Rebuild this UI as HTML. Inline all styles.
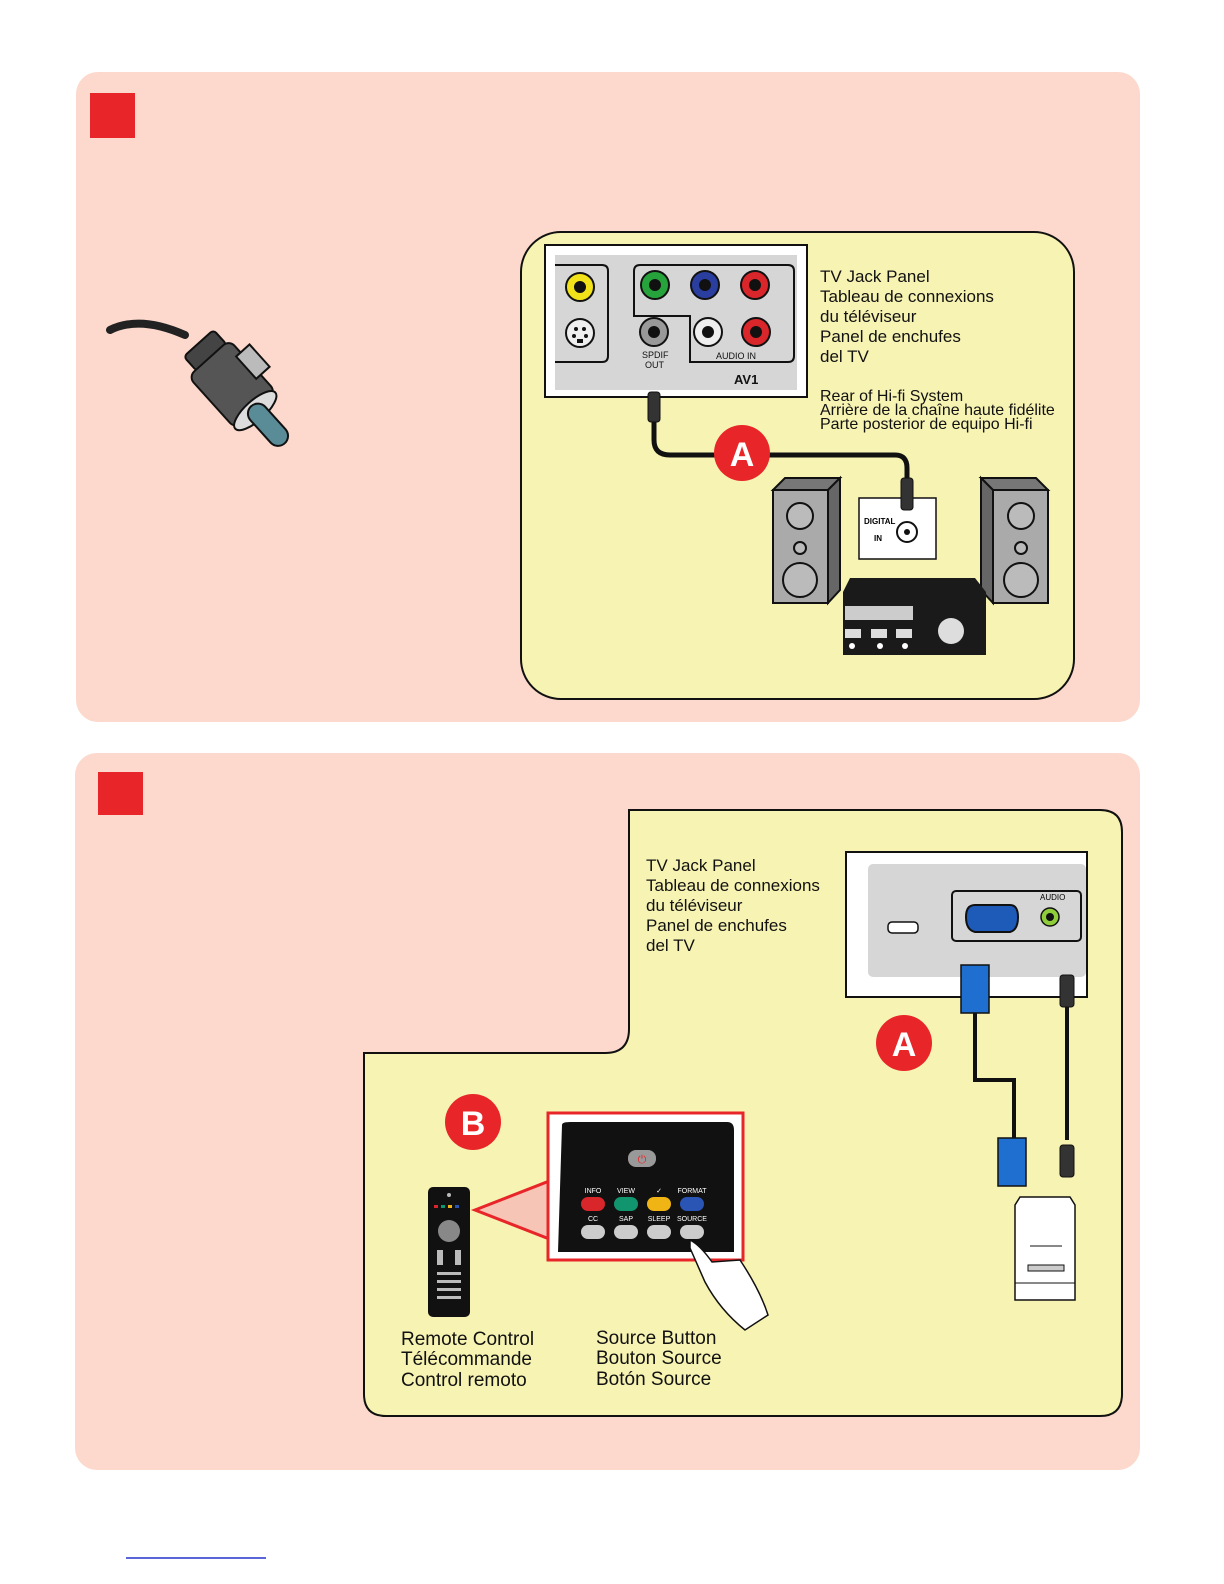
<!DOCTYPE html>
<html><head><meta charset="utf-8"><style>
html,body{margin:0;padding:0;background:#fff}
svg{display:block}
text{font-family:"Liberation Sans",sans-serif}
.lb{font-size:17px;fill:#111}
</style></head><body>
<svg width="1224" height="1584" viewBox="0 0 1224 1584" xmlns="http://www.w3.org/2000/svg">
<rect x="76" y="72" width="1064" height="650" rx="22" fill="#fcd9cc"/>
<rect x="90" y="93" width="45" height="45" fill="#e8262a"/>
<rect x="521" y="232" width="553" height="467" rx="40" fill="#f7f3b2" stroke="#111" stroke-width="2"/>
<!-- plug -->
<path d="M110 330 Q140 315 185 335" stroke="#222" stroke-width="8" fill="none" stroke-linecap="round"/>
<g transform="rotate(48 225 380)">
<rect x="180" y="355" width="20" height="40" rx="4" fill="#444" stroke="#111" stroke-width="2"/>
<rect x="198" y="350" width="70" height="55" rx="8" fill="#555" stroke="#111" stroke-width="2"/>
<rect x="215" y="338" width="30" height="18" fill="#bbb" stroke="#111" stroke-width="2"/>
<ellipse cx="268" cy="378" rx="10" ry="27" fill="#ddd" stroke="#111" stroke-width="2"/>
<rect x="262" y="368" width="50" height="20" rx="10" fill="#5a8c98" stroke="#111" stroke-width="2"/>
</g>
<!-- TV jack panel 1 -->
<rect x="545" y="245" width="262" height="152" fill="#fff" stroke="#111" stroke-width="2"/>
<rect x="555" y="255" width="242" height="135" fill="#d6d6d6"/>
<path d="M555 265 H602 Q608 265 608 271 V356 Q608 362 602 362 H555" fill="none" stroke="#111" stroke-width="2"/>
<path d="M640 265 H788 Q794 265 794 271 V356 Q794 362 788 362 H690 V316 H634 V271 Q634 265 640 265Z" fill="none" stroke="#111" stroke-width="2"/>
<g stroke="#111" stroke-width="2">
<circle cx="580" cy="287" r="14" fill="#f2e21a"/><circle cx="580" cy="287" r="5" fill="#111"/>
<circle cx="580" cy="333" r="14" fill="#eee"/>
<circle cx="655" cy="285" r="14" fill="#27a33b"/><circle cx="655" cy="285" r="5" fill="#111"/>
<circle cx="705" cy="285" r="14" fill="#2a3ea0"/><circle cx="705" cy="285" r="5" fill="#111"/>
<circle cx="755" cy="285" r="14" fill="#d8262a"/><circle cx="755" cy="285" r="5" fill="#111"/>
<circle cx="654" cy="332" r="14" fill="#999"/><circle cx="654" cy="332" r="5" fill="#111"/>
<circle cx="708" cy="332" r="14" fill="#eee"/><circle cx="708" cy="332" r="5" fill="#111"/>
<circle cx="756" cy="332" r="14" fill="#d8262a"/><circle cx="756" cy="332" r="5" fill="#111"/>
</g>
<g fill="#111"><circle cx="576" cy="329" r="2"/><circle cx="584" cy="329" r="2"/><circle cx="574" cy="336" r="2"/><circle cx="586" cy="336" r="2"/><rect x="577" y="339" width="6" height="4"/></g>
<text x="642" y="358" font-size="9" fill="#111">SPDIF</text>
<text x="645" y="368" font-size="9" fill="#111">OUT</text>
<text x="716" y="359" font-size="9" fill="#111">AUDIO IN</text>
<text x="734" y="384" font-size="13" font-weight="bold" fill="#111">AV1</text>
<text class="lb" x="820" y="282">TV Jack Panel</text>
<text class="lb" x="820" y="302">Tableau de connexions</text>
<text class="lb" x="820" y="322">du téléviseur</text>
<text class="lb" x="820" y="342">Panel de enchufes</text>
<text class="lb" x="820" y="362">del TV</text>
<text x="820" y="401" font-size="16" fill="#111">Rear of Hi-fi System</text>
<text x="820" y="415" font-size="16" fill="#111">Arrière de la chaîne haute fidélite</text>
<text x="820" y="429" font-size="16" fill="#111">Parte posterior de equipo Hi-fi</text>
<path d="M654 420 V440 Q654 455 670 455 H895 Q907 455 907 468 V480" fill="none" stroke="#111" stroke-width="5"/>
<rect x="648" y="392" width="12" height="30" rx="3" fill="#333" stroke="#111"/>
<circle cx="742" cy="453" r="28" fill="#e8262a"/>
<text x="742" y="466" font-size="34" font-weight="bold" fill="#fff" text-anchor="middle">A</text>
<!-- speakers -->
<g stroke="#111" stroke-width="2">
<polygon points="773,490 785,478 840,478 828,490" fill="#777"/>
<polygon points="828,490 840,478 840,590 828,603" fill="#666"/>
<rect x="773" y="490" width="55" height="113" fill="#aaa"/>
<circle cx="800" cy="516" r="13" fill="#bbb"/><circle cx="800" cy="548" r="6" fill="#bbb"/><circle cx="800" cy="580" r="17" fill="#bbb"/>
<polygon points="993,490 981,478 1036,478 1048,490" fill="#777"/>
<polygon points="981,478 993,490 993,603 981,590" fill="#666"/>
<rect x="993" y="490" width="55" height="113" fill="#aaa"/>
<circle cx="1021" cy="516" r="13" fill="#bbb"/><circle cx="1021" cy="548" r="6" fill="#bbb"/><circle cx="1021" cy="580" r="17" fill="#bbb"/>
</g>
<rect x="859" y="498" width="77" height="61" fill="#fff" stroke="#111" stroke-width="1.5"/>
<text x="864" y="524" font-size="8" font-weight="bold">DIGITAL</text><text x="874" y="541" font-size="8" font-weight="bold">IN</text>
<circle cx="907" cy="532" r="10" fill="#fff" stroke="#111" stroke-width="2"/><circle cx="907" cy="532" r="3" fill="#111"/>
<rect x="901" y="478" width="12" height="32" rx="3" fill="#333" stroke="#111"/>
<path d="M850 578 L843 592 V655 H986 V592 L975 578Z" fill="#1a1a1a"/>
<rect x="845" y="606" width="68" height="14" fill="#ccc"/>
<rect x="845" y="629" width="16" height="9" fill="#ddd"/><rect x="871" y="629" width="16" height="9" fill="#ddd"/><rect x="896" y="629" width="16" height="9" fill="#ddd"/>
<circle cx="852" cy="646" r="3" fill="#fff"/><circle cx="880" cy="646" r="3" fill="#fff"/><circle cx="905" cy="646" r="3" fill="#fff"/>
<circle cx="951" cy="631" r="13" fill="#ddd"/>

<!-- panel 2 -->
<rect x="75" y="753" width="1065" height="717" rx="22" fill="#fcd9cc"/>
<rect x="98" y="772" width="45" height="43" fill="#e8262a"/>
<path d="M629 810 H1100 Q1122 810 1122 832 V1394 Q1122 1416 1100 1416 H386 Q364 1416 364 1394 V1053 H605 Q629 1053 629 1029 Z" fill="#f7f3b2" stroke="#111" stroke-width="2"/>
<text class="lb" x="646" y="871">TV Jack Panel</text>
<text class="lb" x="646" y="891">Tableau de connexions</text>
<text class="lb" x="646" y="911">du téléviseur</text>
<text class="lb" x="646" y="931">Panel de enchufes</text>
<text class="lb" x="646" y="951">del TV</text>
<rect x="846" y="852" width="241" height="145" fill="#fff" stroke="#111" stroke-width="2"/>
<rect x="868" y="864" width="218" height="113" rx="5" fill="#d6d6d6"/>
<rect x="888" y="922" width="30" height="11" rx="4" fill="#fff" stroke="#111" stroke-width="1.5"/>
<rect x="952" y="891" width="129" height="50" rx="4" fill="none" stroke="#111" stroke-width="2"/>
<path d="M966 917 Q966 905 975 905 H1010 Q1018 905 1018 917 Q1018 930 1010 932 H975 Q966 930 966 917Z" fill="#1e5ab8" stroke="#111" stroke-width="2"/>
<text x="1040" y="900" font-size="8">AUDIO</text>
<circle cx="1050" cy="917" r="9" fill="#8fce3a" stroke="#111" stroke-width="1.5"/><circle cx="1050" cy="917" r="4" fill="#111"/>
<rect x="961" y="965" width="28" height="48" fill="#1e6fd0" stroke="#111" stroke-width="1.5"/>
<rect x="1060" y="975" width="14" height="32" rx="3" fill="#333" stroke="#111"/>
<path d="M975 1013 V1080 H1014 V1140" fill="none" stroke="#111" stroke-width="4"/>
<path d="M1067 1007 V1140" fill="none" stroke="#111" stroke-width="4"/>
<rect x="998" y="1138" width="28" height="48" fill="#1e6fd0" stroke="#111" stroke-width="1.5"/>
<rect x="1060" y="1145" width="14" height="32" rx="3" fill="#333" stroke="#111"/>
<circle cx="904" cy="1043" r="28" fill="#e8262a"/>
<text x="904" y="1056" font-size="34" font-weight="bold" fill="#fff" text-anchor="middle">A</text>
<path d="M1015 1205 L1020 1197 H1070 L1075 1205 V1300 H1015Z" fill="#fff" stroke="#111" stroke-width="1.5"/>
<line x1="1015" y1="1283" x2="1075" y2="1283" stroke="#111"/>
<line x1="1030" y1="1246" x2="1062" y2="1246" stroke="#111"/>
<rect x="1028" y="1265" width="36" height="6" fill="#ccc" stroke="#111"/>
<circle cx="473" cy="1122" r="28" fill="#e8262a"/>
<text x="473" y="1135" font-size="34" font-weight="bold" fill="#fff" text-anchor="middle">B</text>
<polygon points="475,1210 552,1180 552,1240" fill="#f7c5b5" stroke="#e8262a" stroke-width="3"/>
<rect x="548" y="1113" width="195" height="147" fill="#fff" stroke="#e8262a" stroke-width="3"/>
<path d="M562 1125 Q562 1122 570 1122 H727 Q734 1122 734 1130 V1252 H558Z" fill="#111"/>
<rect x="628" y="1150" width="28" height="17" rx="8" fill="#999"/>
<text x="642" y="1163" font-size="11" fill="#e8262a" text-anchor="middle">⏻</text>
<g font-size="7" fill="#fff" text-anchor="middle">
<text x="593" y="1193">INFO</text><text x="626" y="1193">VIEW</text><text x="659" y="1193">✓</text><text x="692" y="1193">FORMAT</text>
<text x="593" y="1221">CC</text><text x="626" y="1221">SAP</text><text x="659" y="1221">SLEEP</text><text x="692" y="1221">SOURCE</text>
</g>
<rect x="581" y="1197" width="24" height="14" rx="7" fill="#d8262a"/>
<rect x="614" y="1197" width="24" height="14" rx="7" fill="#10956e"/>
<rect x="647" y="1197" width="24" height="14" rx="7" fill="#f0b514"/>
<rect x="680" y="1197" width="24" height="14" rx="7" fill="#2a55b5"/>
<rect x="581" y="1225" width="24" height="14" rx="7" fill="#ccc"/>
<rect x="614" y="1225" width="24" height="14" rx="7" fill="#ccc"/>
<rect x="647" y="1225" width="24" height="14" rx="7" fill="#ccc"/>
<rect x="680" y="1225" width="24" height="14" rx="7" fill="#ccc"/>
<path d="M690 1240 Q700 1245 712 1262 L740 1260 Q760 1290 768 1315 L745 1330 Q720 1310 705 1282 L690 1248Z" fill="#fff" stroke="#111" stroke-width="1.5"/>
<rect x="428" y="1187" width="42" height="130" rx="5" fill="#111"/>
<g fill="#bbb">
<circle cx="449" cy="1195" r="2"/>
<rect x="434" y="1205" width="4" height="3" fill="#d8262a"/><rect x="441" y="1205" width="4" height="3" fill="#10956e"/><rect x="448" y="1205" width="4" height="3" fill="#f0b514"/><rect x="455" y="1205" width="4" height="3" fill="#2a55b5"/>
<rect x="438" y="1220" width="22" height="22" rx="11" fill="#888"/>
<rect x="437" y="1250" width="6" height="15"/><rect x="455" y="1250" width="6" height="15"/>
<rect x="437" y="1272" width="24" height="3"/><rect x="437" y="1280" width="24" height="3"/><rect x="437" y="1288" width="24" height="3"/><rect x="437" y="1296" width="24" height="3"/>
</g>
<text x="401" y="1345" font-size="19" fill="#111">Remote Control</text>
<text x="401" y="1365" font-size="19" fill="#111">Télécommande</text>
<text x="401" y="1386" font-size="19" fill="#111">Control remoto</text>
<text x="596" y="1344" font-size="19" fill="#111">Source Button</text>
<text x="596" y="1364" font-size="19" fill="#111">Bouton Source</text>
<text x="596" y="1385" font-size="19" fill="#111">Botón Source</text>
<line x1="126" y1="1558" x2="266" y2="1558" stroke="#2233cc" stroke-width="1.5"/>
</svg>
</body></html>
